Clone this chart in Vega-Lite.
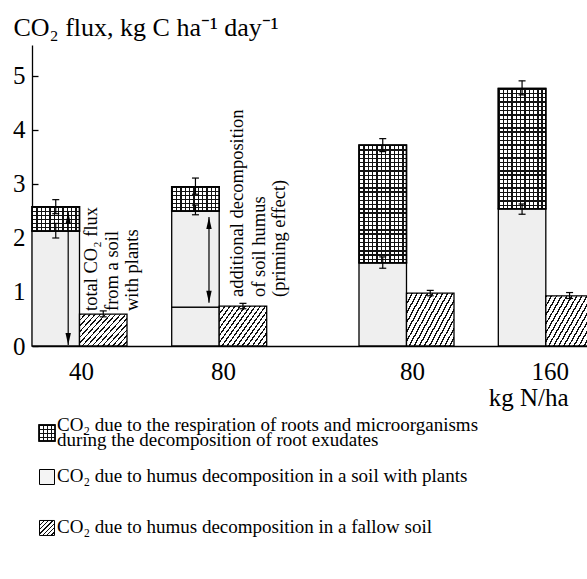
{
  "$schema": "https://vega.github.io/schema/vega-lite/v6.json",
  "width": 555,
  "height": 301,
  "autosize": {"type": "none"},
  "padding": {"left": 32, "top": 45, "right": 0, "bottom": 233},
  "background": "white",
  "config": {
    "view": {"stroke": null},
    "font": "Liberation Serif",
    "axis": {"labelFont": "Liberation Serif", "titleFont": "Liberation Serif", "labelFontSize": 25, "titleFontSize": 25, "labelColor": "#000", "titleColor": "#000", "domainColor": "#000", "domainWidth": 1.3, "tickColor": "#000", "tickWidth": 1.3, "grid": false, "titleFontWeight": "normal"}
  },
  "datasets": {
    "bars": [
      {"x0": 0, "x1": 1, "y0": 0, "y1": 2.13, "kind": "plants"},
      {"x0": 0, "x1": 1, "y0": 2.13, "y1": 2.58, "kind": "roots"},
      {"x0": 1, "x1": 2, "y0": 0, "y1": 0.59, "kind": "fallow"},
      {"x0": 2.941, "x1": 3.941, "y0": 0, "y1": 0.72, "kind": "plants"},
      {"x0": 2.941, "x1": 3.941, "y0": 0.72, "y1": 2.5, "kind": "plants"},
      {"x0": 2.941, "x1": 3.941, "y0": 2.5, "y1": 2.95, "kind": "roots"},
      {"x0": 3.941, "x1": 4.941, "y0": 0, "y1": 0.74, "kind": "fallow"},
      {"x0": 6.884, "x1": 7.884, "y0": 0, "y1": 1.54, "kind": "plants"},
      {"x0": 6.884, "x1": 7.884, "y0": 1.54, "y1": 3.72, "kind": "roots"},
      {"x0": 7.884, "x1": 8.884, "y0": 0, "y1": 0.98, "kind": "fallow"},
      {"x0": 9.817, "x1": 10.817, "y0": 0, "y1": 2.54, "kind": "plants"},
      {"x0": 9.817, "x1": 10.817, "y0": 2.54, "y1": 4.77, "kind": "roots"},
      {"x0": 10.817, "x1": 11.817, "y0": 0, "y1": 0.93, "kind": "fallow"}
    ],
    "errors": [
      {"xc": 0.5, "lo": 2.45, "hi": 2.71},
      {"xc": 0.5, "lo": 2.0, "hi": 2.27},
      {"xc": 1.5, "lo": 0.54, "hi": 0.65},
      {"xc": 3.441, "lo": 2.81, "hi": 3.11},
      {"xc": 3.441, "lo": 2.43, "hi": 2.61},
      {"xc": 4.441, "lo": 0.69, "hi": 0.79},
      {"xc": 7.384, "lo": 3.6, "hi": 3.84},
      {"xc": 7.384, "lo": 1.44, "hi": 1.65},
      {"xc": 8.384, "lo": 0.93, "hi": 1.03},
      {"xc": 10.317, "lo": 4.65, "hi": 4.91},
      {"xc": 10.317, "lo": 2.44, "hi": 2.63},
      {"xc": 11.317, "lo": 0.88, "hi": 0.99}
    ],
    "arrows": [
      {"x": 0.762, "ylo": 0.02, "yhi": 2.48},
      {"x": 3.726, "ylo": 0.8, "yhi": 2.39}
    ],
    "notes": [
      {"text": "total CO₂ flux", "x": 1.242, "y": 0.648},
      {"text": "from a soil", "x": 1.684, "y": 0.648},
      {"text": "with plants", "x": 2.105, "y": 0.648},
      {"text": "additional decomposition", "x": 4.316, "y": 0.907},
      {"text": "of soil humus", "x": 4.779, "y": 0.907},
      {"text": "(priming effect)", "x": 5.2, "y": 0.907}
    ],
    "legend": [
      {"item": 1, "kind": "roots", "label": "CO₂ due to the respiration of roots and microorganisms\nduring the decomposition of root exudates"},
      {"item": 2, "kind": "plants", "label": "CO₂ due to humus decomposition in a soil with plants"},
      {"item": 3, "kind": "fallow", "label": "CO₂ due to humus decomposition in a fallow soil"}
    ]
  },
  "layer": [
    {
      "data": {"name": "bars"},
      "transform": [{"filter": "datum.kind == 'plants'"}],
      "mark": {"type": "rect", "fill": "#efefef", "stroke": "#000", "strokeWidth": 1.3},
      "encoding": {
        "x": {"field": "x0", "type": "quantitative", "scale": {"domain": [0, 11.684], "nice": false, "zero": false},
          "axis": {"values": [1.03, 4.02, 8.0, 10.9], "labelExpr": "datum.value < 2 ? '40' : datum.value < 6 ? '80' : datum.value < 9 ? '80' : '160'", "ticks": false, "labelPadding": 13, "labelFlush": false, "labelOverlap": false, "title": "kg N/ha", "titleX": 536, "titleY": 59, "titleAlign": "right", "titleBaseline": "alphabetic"}},
        "x2": {"field": "x1"},
        "y": {"field": "y0", "type": "quantitative", "scale": {"domain": [0, 5.574], "nice": false, "zero": false},
          "axis": {"values": [0, 1, 2, 3, 4, 5], "format": "d", "tickSize": -6, "labelPadding": 13, "labelFlush": false, "labelOverlap": false, "title": "CO₂ flux, kg C ha⁻¹ day⁻¹", "titleFontSize": 26, "titleAngle": 0, "titleAlign": "left", "titleBaseline": "alphabetic", "titleX": -19, "titleY": -10}},
        "y2": {"field": "y1"}
      }
    },
    {
      "data": {"name": "bars"},
      "transform": [{"filter": "datum.kind == 'roots' && datum.y1 - datum.y0 < 1"}],
      "mark": {"type": "rect", "stroke": "#000", "strokeWidth": 1.3,
        "fill": {"gradient": "linear", "x1": 0, "y1": 0, "x2": 0, "y2": 1, "stops": [
          {"offset": 0, "color": "#111"}, {"offset": 0.055, "color": "#111"}, {"offset": 0.055, "color": "#fff"}, {"offset": 0.1667, "color": "#fff"},
          {"offset": 0.1667, "color": "#111"}, {"offset": 0.2217, "color": "#111"}, {"offset": 0.2217, "color": "#fff"}, {"offset": 0.3333, "color": "#fff"},
          {"offset": 0.3333, "color": "#111"}, {"offset": 0.3883, "color": "#111"}, {"offset": 0.3883, "color": "#fff"}, {"offset": 0.5, "color": "#fff"},
          {"offset": 0.5, "color": "#111"}, {"offset": 0.555, "color": "#111"}, {"offset": 0.555, "color": "#fff"}, {"offset": 0.6667, "color": "#fff"},
          {"offset": 0.6667, "color": "#111"}, {"offset": 0.7217, "color": "#111"}, {"offset": 0.7217, "color": "#fff"}, {"offset": 0.8333, "color": "#fff"},
          {"offset": 0.8333, "color": "#111"}, {"offset": 0.8883, "color": "#111"}, {"offset": 0.8883, "color": "#fff"}, {"offset": 1, "color": "#fff"}]}},
      "encoding": {
        "x": {"field": "x0", "type": "quantitative", "scale": {"domain": [0, 11.684], "nice": false, "zero": false}},
        "x2": {"field": "x1"},
        "y": {"field": "y0", "type": "quantitative", "scale": {"domain": [0, 5.574], "nice": false, "zero": false}},
        "y2": {"field": "y1"}
      }
    },
    {
      "data": {"name": "bars"},
      "transform": [{"filter": "datum.kind == 'roots' && datum.y1 - datum.y0 >= 1"}],
      "mark": {"type": "rect", "stroke": "#000", "strokeWidth": 1.3,
        "fill": {"gradient": "linear", "x1": 0, "y1": 0, "x2": 0, "y2": 1, "stops": [
          {"offset": 0, "color": "#111"}, {"offset": 0.0115, "color": "#111"}, {"offset": 0.0115, "color": "#fff"}, {"offset": 0.0357, "color": "#fff"},
          {"offset": 0.0357, "color": "#111"}, {"offset": 0.0472, "color": "#111"}, {"offset": 0.0472, "color": "#fff"}, {"offset": 0.0714, "color": "#fff"},
          {"offset": 0.0714, "color": "#111"}, {"offset": 0.0829, "color": "#111"}, {"offset": 0.0829, "color": "#fff"}, {"offset": 0.1071, "color": "#fff"},
          {"offset": 0.1071, "color": "#111"}, {"offset": 0.1186, "color": "#111"}, {"offset": 0.1186, "color": "#fff"}, {"offset": 0.1429, "color": "#fff"},
          {"offset": 0.1429, "color": "#111"}, {"offset": 0.1544, "color": "#111"}, {"offset": 0.1544, "color": "#fff"}, {"offset": 0.1786, "color": "#fff"},
          {"offset": 0.1786, "color": "#111"}, {"offset": 0.1901, "color": "#111"}, {"offset": 0.1901, "color": "#fff"}, {"offset": 0.2143, "color": "#fff"},
          {"offset": 0.2143, "color": "#111"}, {"offset": 0.2258, "color": "#111"}, {"offset": 0.2258, "color": "#fff"}, {"offset": 0.25, "color": "#fff"},
          {"offset": 0.25, "color": "#111"}, {"offset": 0.2615, "color": "#111"}, {"offset": 0.2615, "color": "#fff"}, {"offset": 0.2857, "color": "#fff"},
          {"offset": 0.2857, "color": "#111"}, {"offset": 0.2972, "color": "#111"}, {"offset": 0.2972, "color": "#fff"}, {"offset": 0.3214, "color": "#fff"},
          {"offset": 0.3214, "color": "#111"}, {"offset": 0.3329, "color": "#111"}, {"offset": 0.3329, "color": "#fff"}, {"offset": 0.3571, "color": "#fff"},
          {"offset": 0.3571, "color": "#111"}, {"offset": 0.3686, "color": "#111"}, {"offset": 0.3686, "color": "#fff"}, {"offset": 0.3929, "color": "#fff"},
          {"offset": 0.3929, "color": "#111"}, {"offset": 0.4044, "color": "#111"}, {"offset": 0.4044, "color": "#fff"}, {"offset": 0.4286, "color": "#fff"},
          {"offset": 0.4286, "color": "#111"}, {"offset": 0.4401, "color": "#111"}, {"offset": 0.4401, "color": "#fff"}, {"offset": 0.4643, "color": "#fff"},
          {"offset": 0.4643, "color": "#111"}, {"offset": 0.4758, "color": "#111"}, {"offset": 0.4758, "color": "#fff"}, {"offset": 0.5, "color": "#fff"},
          {"offset": 0.5, "color": "#111"}, {"offset": 0.5115, "color": "#111"}, {"offset": 0.5115, "color": "#fff"}, {"offset": 0.5357, "color": "#fff"},
          {"offset": 0.5357, "color": "#111"}, {"offset": 0.5472, "color": "#111"}, {"offset": 0.5472, "color": "#fff"}, {"offset": 0.5714, "color": "#fff"},
          {"offset": 0.5714, "color": "#111"}, {"offset": 0.5829, "color": "#111"}, {"offset": 0.5829, "color": "#fff"}, {"offset": 0.6071, "color": "#fff"},
          {"offset": 0.6071, "color": "#111"}, {"offset": 0.6186, "color": "#111"}, {"offset": 0.6186, "color": "#fff"}, {"offset": 0.6429, "color": "#fff"},
          {"offset": 0.6429, "color": "#111"}, {"offset": 0.6544, "color": "#111"}, {"offset": 0.6544, "color": "#fff"}, {"offset": 0.6786, "color": "#fff"},
          {"offset": 0.6786, "color": "#111"}, {"offset": 0.6901, "color": "#111"}, {"offset": 0.6901, "color": "#fff"}, {"offset": 0.7143, "color": "#fff"},
          {"offset": 0.7143, "color": "#111"}, {"offset": 0.7258, "color": "#111"}, {"offset": 0.7258, "color": "#fff"}, {"offset": 0.75, "color": "#fff"},
          {"offset": 0.75, "color": "#111"}, {"offset": 0.7615, "color": "#111"}, {"offset": 0.7615, "color": "#fff"}, {"offset": 0.7857, "color": "#fff"},
          {"offset": 0.7857, "color": "#111"}, {"offset": 0.7972, "color": "#111"}, {"offset": 0.7972, "color": "#fff"}, {"offset": 0.8214, "color": "#fff"},
          {"offset": 0.8214, "color": "#111"}, {"offset": 0.8329, "color": "#111"}, {"offset": 0.8329, "color": "#fff"}, {"offset": 0.8571, "color": "#fff"},
          {"offset": 0.8571, "color": "#111"}, {"offset": 0.8686, "color": "#111"}, {"offset": 0.8686, "color": "#fff"}, {"offset": 0.8929, "color": "#fff"},
          {"offset": 0.8929, "color": "#111"}, {"offset": 0.9044, "color": "#111"}, {"offset": 0.9044, "color": "#fff"}, {"offset": 0.9286, "color": "#fff"},
          {"offset": 0.9286, "color": "#111"}, {"offset": 0.9401, "color": "#111"}, {"offset": 0.9401, "color": "#fff"}, {"offset": 0.9643, "color": "#fff"},
          {"offset": 0.9643, "color": "#111"}, {"offset": 0.9758, "color": "#111"}, {"offset": 0.9758, "color": "#fff"}, {"offset": 1, "color": "#fff"}]}},
      "encoding": {
        "x": {"field": "x0", "type": "quantitative", "scale": {"domain": [0, 11.684], "nice": false, "zero": false}},
        "x2": {"field": "x1"},
        "y": {"field": "y0", "type": "quantitative", "scale": {"domain": [0, 5.574], "nice": false, "zero": false}},
        "y2": {"field": "y1"}
      }
    },
    {
      "data": {"name": "bars"},
      "transform": [{"filter": "datum.kind == 'roots'"}],
      "mark": {"type": "rect", "stroke": "#000", "strokeWidth": 1.5,
        "fill": {"gradient": "linear", "x1": 0, "y1": 0, "x2": 1, "y2": 0, "stops": [
          {"offset": 0, "color": "#111"}, {"offset": 0.03, "color": "#111"}, {"offset": 0.03, "color": "rgba(0,0,0,0)"}, {"offset": 0.0909, "color": "rgba(0,0,0,0)"},
          {"offset": 0.0909, "color": "#111"}, {"offset": 0.1209, "color": "#111"}, {"offset": 0.1209, "color": "rgba(0,0,0,0)"}, {"offset": 0.1818, "color": "rgba(0,0,0,0)"},
          {"offset": 0.1818, "color": "#111"}, {"offset": 0.2118, "color": "#111"}, {"offset": 0.2118, "color": "rgba(0,0,0,0)"}, {"offset": 0.2727, "color": "rgba(0,0,0,0)"},
          {"offset": 0.2727, "color": "#111"}, {"offset": 0.3027, "color": "#111"}, {"offset": 0.3027, "color": "rgba(0,0,0,0)"}, {"offset": 0.3636, "color": "rgba(0,0,0,0)"},
          {"offset": 0.3636, "color": "#111"}, {"offset": 0.3936, "color": "#111"}, {"offset": 0.3936, "color": "rgba(0,0,0,0)"}, {"offset": 0.4545, "color": "rgba(0,0,0,0)"},
          {"offset": 0.4545, "color": "#111"}, {"offset": 0.4845, "color": "#111"}, {"offset": 0.4845, "color": "rgba(0,0,0,0)"}, {"offset": 0.5455, "color": "rgba(0,0,0,0)"},
          {"offset": 0.5455, "color": "#111"}, {"offset": 0.5755, "color": "#111"}, {"offset": 0.5755, "color": "rgba(0,0,0,0)"}, {"offset": 0.6364, "color": "rgba(0,0,0,0)"},
          {"offset": 0.6364, "color": "#111"}, {"offset": 0.6664, "color": "#111"}, {"offset": 0.6664, "color": "rgba(0,0,0,0)"}, {"offset": 0.7273, "color": "rgba(0,0,0,0)"},
          {"offset": 0.7273, "color": "#111"}, {"offset": 0.7573, "color": "#111"}, {"offset": 0.7573, "color": "rgba(0,0,0,0)"}, {"offset": 0.8182, "color": "rgba(0,0,0,0)"},
          {"offset": 0.8182, "color": "#111"}, {"offset": 0.8482, "color": "#111"}, {"offset": 0.8482, "color": "rgba(0,0,0,0)"}, {"offset": 0.9091, "color": "rgba(0,0,0,0)"},
          {"offset": 0.9091, "color": "#111"}, {"offset": 0.9391, "color": "#111"}, {"offset": 0.9391, "color": "rgba(0,0,0,0)"}, {"offset": 1, "color": "rgba(0,0,0,0)"}]}},
      "encoding": {
        "x": {"field": "x0", "type": "quantitative", "scale": {"domain": [0, 11.684], "nice": false, "zero": false}},
        "x2": {"field": "x1"},
        "y": {"field": "y0", "type": "quantitative", "scale": {"domain": [0, 5.574], "nice": false, "zero": false}},
        "y2": {"field": "y1"}
      }
    },
    {
      "data": {"name": "bars"},
      "transform": [{"filter": "datum.kind == 'fallow'"}],
      "mark": {"type": "rect", "stroke": "#000", "strokeWidth": 1.3,
        "fill": {"gradient": "linear", "x1": 0, "y1": 0, "x2": 1.176, "y2": 0.706, "stops": [
          {"offset": 0, "color": "#111"}, {"offset": 0.02, "color": "#111"}, {"offset": 0.02, "color": "#fff"}, {"offset": 0.0667, "color": "#fff"},
          {"offset": 0.0667, "color": "#111"}, {"offset": 0.0867, "color": "#111"}, {"offset": 0.0867, "color": "#fff"}, {"offset": 0.1333, "color": "#fff"},
          {"offset": 0.1333, "color": "#111"}, {"offset": 0.1533, "color": "#111"}, {"offset": 0.1533, "color": "#fff"}, {"offset": 0.2, "color": "#fff"},
          {"offset": 0.2, "color": "#111"}, {"offset": 0.22, "color": "#111"}, {"offset": 0.22, "color": "#fff"}, {"offset": 0.2667, "color": "#fff"},
          {"offset": 0.2667, "color": "#111"}, {"offset": 0.2867, "color": "#111"}, {"offset": 0.2867, "color": "#fff"}, {"offset": 0.3333, "color": "#fff"},
          {"offset": 0.3333, "color": "#111"}, {"offset": 0.3533, "color": "#111"}, {"offset": 0.3533, "color": "#fff"}, {"offset": 0.4, "color": "#fff"},
          {"offset": 0.4, "color": "#111"}, {"offset": 0.42, "color": "#111"}, {"offset": 0.42, "color": "#fff"}, {"offset": 0.4667, "color": "#fff"},
          {"offset": 0.4667, "color": "#111"}, {"offset": 0.4867, "color": "#111"}, {"offset": 0.4867, "color": "#fff"}, {"offset": 0.5333, "color": "#fff"},
          {"offset": 0.5333, "color": "#111"}, {"offset": 0.5533, "color": "#111"}, {"offset": 0.5533, "color": "#fff"}, {"offset": 0.6, "color": "#fff"},
          {"offset": 0.6, "color": "#111"}, {"offset": 0.62, "color": "#111"}, {"offset": 0.62, "color": "#fff"}, {"offset": 0.6667, "color": "#fff"},
          {"offset": 0.6667, "color": "#111"}, {"offset": 0.6867, "color": "#111"}, {"offset": 0.6867, "color": "#fff"}, {"offset": 0.7333, "color": "#fff"},
          {"offset": 0.7333, "color": "#111"}, {"offset": 0.7533, "color": "#111"}, {"offset": 0.7533, "color": "#fff"}, {"offset": 0.8, "color": "#fff"},
          {"offset": 0.8, "color": "#111"}, {"offset": 0.82, "color": "#111"}, {"offset": 0.82, "color": "#fff"}, {"offset": 0.8667, "color": "#fff"},
          {"offset": 0.8667, "color": "#111"}, {"offset": 0.8867, "color": "#111"}, {"offset": 0.8867, "color": "#fff"}, {"offset": 0.9333, "color": "#fff"},
          {"offset": 0.9333, "color": "#111"}, {"offset": 0.9533, "color": "#111"}, {"offset": 0.9533, "color": "#fff"}, {"offset": 1, "color": "#fff"}]}},
      "encoding": {
        "x": {"field": "x0", "type": "quantitative", "scale": {"domain": [0, 11.684], "nice": false, "zero": false}},
        "x2": {"field": "x1"},
        "y": {"field": "y0", "type": "quantitative", "scale": {"domain": [0, 5.574], "nice": false, "zero": false}},
        "y2": {"field": "y1"}
      }
    },
    {
      "data": {"name": "errors"},
      "mark": {"type": "rule", "color": "#000", "strokeWidth": 1.2},
      "encoding": {
        "x": {"field": "xc", "type": "quantitative", "scale": {"domain": [0, 11.684], "nice": false, "zero": false}},
        "y": {"field": "lo", "type": "quantitative", "scale": {"domain": [0, 5.574], "nice": false, "zero": false}},
        "y2": {"field": "hi"}
      }
    },
    {
      "data": {"name": "errors"},
      "mark": {"type": "point", "shape": "stroke", "size": 49, "filled": false, "color": "#000", "strokeWidth": 1.2, "opacity": 1},
      "encoding": {
        "x": {"field": "xc", "type": "quantitative", "scale": {"domain": [0, 11.684], "nice": false, "zero": false}},
        "y": {"field": "lo", "type": "quantitative", "scale": {"domain": [0, 5.574], "nice": false, "zero": false}}
      }
    },
    {
      "data": {"name": "errors"},
      "mark": {"type": "point", "shape": "stroke", "size": 49, "filled": false, "color": "#000", "strokeWidth": 1.2, "opacity": 1},
      "encoding": {
        "x": {"field": "xc", "type": "quantitative", "scale": {"domain": [0, 11.684], "nice": false, "zero": false}},
        "y": {"field": "hi", "type": "quantitative", "scale": {"domain": [0, 5.574], "nice": false, "zero": false}}
      }
    },
    {
      "data": {"name": "arrows"},
      "mark": {"type": "rule", "color": "#000", "strokeWidth": 1.2},
      "encoding": {
        "x": {"field": "x", "type": "quantitative", "scale": {"domain": [0, 11.684], "nice": false, "zero": false}},
        "y": {"field": "ylo", "type": "quantitative", "scale": {"domain": [0, 5.574], "nice": false, "zero": false}},
        "y2": {"field": "yhi"}
      }
    },
    {
      "data": {"name": "arrows"},
      "mark": {"type": "point", "shape": "M0,0L0.45,2L-0.45,2Z", "size": 144, "filled": true, "color": "#000", "opacity": 1},
      "encoding": {
        "x": {"field": "x", "type": "quantitative", "scale": {"domain": [0, 11.684], "nice": false, "zero": false}},
        "y": {"field": "yhi", "type": "quantitative", "scale": {"domain": [0, 5.574], "nice": false, "zero": false}}
      }
    },
    {
      "data": {"name": "arrows"},
      "mark": {"type": "point", "shape": "M0,0L0.45,-2L-0.45,-2Z", "size": 144, "filled": true, "color": "#000", "opacity": 1},
      "encoding": {
        "x": {"field": "x", "type": "quantitative", "scale": {"domain": [0, 11.684], "nice": false, "zero": false}},
        "y": {"field": "ylo", "type": "quantitative", "scale": {"domain": [0, 5.574], "nice": false, "zero": false}}
      }
    },
    {
      "data": {"name": "notes"},
      "mark": {"type": "text", "angle": 270, "align": "left", "baseline": "middle", "fontSize": 18.5, "font": "Liberation Serif", "color": "#000"},
      "encoding": {
        "x": {"field": "x", "type": "quantitative", "scale": {"domain": [0, 11.684], "nice": false, "zero": false}},
        "y": {"field": "y", "type": "quantitative", "scale": {"domain": [0, 5.574], "nice": false, "zero": false}},
        "text": {"field": "text"}
      }
    },
    {
      "data": {"name": "legend"},
      "transform": [{"filter": "datum.item == 1"}],
      "mark": {"type": "point", "shape": "square", "size": 256, "filled": true, "stroke": "#000", "strokeWidth": 1.3, "opacity": 1,
        "fill": {"gradient": "linear", "x1": 0, "y1": 0, "x2": 0, "y2": 1, "stops": [
          {"offset": 0, "color": "#111"}, {"offset": 0.08, "color": "#111"}, {"offset": 0.08, "color": "#fff"}, {"offset": 0.25, "color": "#fff"},
          {"offset": 0.25, "color": "#111"}, {"offset": 0.33, "color": "#111"}, {"offset": 0.33, "color": "#fff"}, {"offset": 0.5, "color": "#fff"},
          {"offset": 0.5, "color": "#111"}, {"offset": 0.58, "color": "#111"}, {"offset": 0.58, "color": "#fff"}, {"offset": 0.75, "color": "#fff"},
          {"offset": 0.75, "color": "#111"}, {"offset": 0.83, "color": "#111"}, {"offset": 0.83, "color": "#fff"}, {"offset": 1, "color": "#fff"}]}},
      "encoding": {
        "x": {"datum": 0.316, "type": "quantitative", "scale": {"domain": [0, 11.684], "nice": false, "zero": false}},
        "y": {"datum": -1.611, "type": "quantitative", "scale": {"domain": [0, 5.574], "nice": false, "zero": false}}
      }
    },
    {
      "data": {"name": "legend"},
      "transform": [{"filter": "datum.item == 1"}],
      "mark": {"type": "point", "shape": "square", "size": 256, "filled": true, "stroke": "#000", "strokeWidth": 1.3, "opacity": 1,
        "fill": {"gradient": "linear", "x1": 0, "y1": 0, "x2": 1, "y2": 0, "stops": [
          {"offset": 0, "color": "#111"}, {"offset": 0.08, "color": "#111"}, {"offset": 0.08, "color": "rgba(0,0,0,0)"}, {"offset": 0.25, "color": "rgba(0,0,0,0)"},
          {"offset": 0.25, "color": "#111"}, {"offset": 0.33, "color": "#111"}, {"offset": 0.33, "color": "rgba(0,0,0,0)"}, {"offset": 0.5, "color": "rgba(0,0,0,0)"},
          {"offset": 0.5, "color": "#111"}, {"offset": 0.58, "color": "#111"}, {"offset": 0.58, "color": "rgba(0,0,0,0)"}, {"offset": 0.75, "color": "rgba(0,0,0,0)"},
          {"offset": 0.75, "color": "#111"}, {"offset": 0.83, "color": "#111"}, {"offset": 0.83, "color": "rgba(0,0,0,0)"}, {"offset": 1, "color": "rgba(0,0,0,0)"}]}},
      "encoding": {
        "x": {"datum": 0.316, "type": "quantitative", "scale": {"domain": [0, 11.684], "nice": false, "zero": false}},
        "y": {"datum": -1.611, "type": "quantitative", "scale": {"domain": [0, 5.574], "nice": false, "zero": false}}
      }
    },
    {
      "data": {"name": "legend"},
      "transform": [{"filter": "datum.item == 2"}],
      "mark": {"type": "point", "shape": "square", "size": 225, "filled": true, "fill": "#f4f4f4", "stroke": "#000", "strokeWidth": 1, "opacity": 1},
      "encoding": {
        "x": {"datum": 0.316, "type": "quantitative", "scale": {"domain": [0, 11.684], "nice": false, "zero": false}},
        "y": {"datum": -2.426, "type": "quantitative", "scale": {"domain": [0, 5.574], "nice": false, "zero": false}}
      }
    },
    {
      "data": {"name": "legend"},
      "transform": [{"filter": "datum.item == 3"}],
      "mark": {"type": "point", "shape": "square", "size": 225, "filled": true, "stroke": "#000", "strokeWidth": 1, "opacity": 1,
        "fill": {"gradient": "linear", "x1": 0, "y1": 0, "x2": 1, "y2": 1, "stops": [
          {"offset": 0, "color": "#111"}, {"offset": 0.045, "color": "#111"}, {"offset": 0.045, "color": "#fff"}, {"offset": 0.1429, "color": "#fff"},
          {"offset": 0.1429, "color": "#111"}, {"offset": 0.1879, "color": "#111"}, {"offset": 0.1879, "color": "#fff"}, {"offset": 0.2857, "color": "#fff"},
          {"offset": 0.2857, "color": "#111"}, {"offset": 0.3307, "color": "#111"}, {"offset": 0.3307, "color": "#fff"}, {"offset": 0.4286, "color": "#fff"},
          {"offset": 0.4286, "color": "#111"}, {"offset": 0.4736, "color": "#111"}, {"offset": 0.4736, "color": "#fff"}, {"offset": 0.5714, "color": "#fff"},
          {"offset": 0.5714, "color": "#111"}, {"offset": 0.6164, "color": "#111"}, {"offset": 0.6164, "color": "#fff"}, {"offset": 0.7143, "color": "#fff"},
          {"offset": 0.7143, "color": "#111"}, {"offset": 0.7593, "color": "#111"}, {"offset": 0.7593, "color": "#fff"}, {"offset": 0.8571, "color": "#fff"},
          {"offset": 0.8571, "color": "#111"}, {"offset": 0.9021, "color": "#111"}, {"offset": 0.9021, "color": "#fff"}, {"offset": 1, "color": "#fff"}]}},
      "encoding": {
        "x": {"datum": 0.316, "type": "quantitative", "scale": {"domain": [0, 11.684], "nice": false, "zero": false}},
        "y": {"datum": -3.37, "type": "quantitative", "scale": {"domain": [0, 5.574], "nice": false, "zero": false}}
      }
    },
    {
      "data": {"name": "legend"},
      "transform": [{"filter": "datum.item == 1"}],
      "mark": {"type": "text", "align": "left", "baseline": "top", "fontSize": 19, "lineHeight": 15, "lineBreak": "\n", "font": "Liberation Serif", "color": "#000"},
      "encoding": {
        "x": {"datum": 0.526, "type": "quantitative", "scale": {"domain": [0, 11.684], "nice": false, "zero": false}},
        "y": {"datum": -1.296, "type": "quantitative", "scale": {"domain": [0, 5.574], "nice": false, "zero": false}},
        "text": {"field": "label"}
      }
    },
    {
      "data": {"name": "legend"},
      "transform": [{"filter": "datum.item == 2"}],
      "mark": {"type": "text", "align": "left", "baseline": "middle", "fontSize": 19, "font": "Liberation Serif", "color": "#000"},
      "encoding": {
        "x": {"datum": 0.526, "type": "quantitative", "scale": {"domain": [0, 11.684], "nice": false, "zero": false}},
        "y": {"datum": -2.407, "type": "quantitative", "scale": {"domain": [0, 5.574], "nice": false, "zero": false}},
        "text": {"field": "label"}
      }
    },
    {
      "data": {"name": "legend"},
      "transform": [{"filter": "datum.item == 3"}],
      "mark": {"type": "text", "align": "left", "baseline": "middle", "fontSize": 19, "font": "Liberation Serif", "color": "#000"},
      "encoding": {
        "x": {"datum": 0.526, "type": "quantitative", "scale": {"domain": [0, 11.684], "nice": false, "zero": false}},
        "y": {"datum": -3.352, "type": "quantitative", "scale": {"domain": [0, 5.574], "nice": false, "zero": false}},
        "text": {"field": "label"}
      }
    }
  ]
}
